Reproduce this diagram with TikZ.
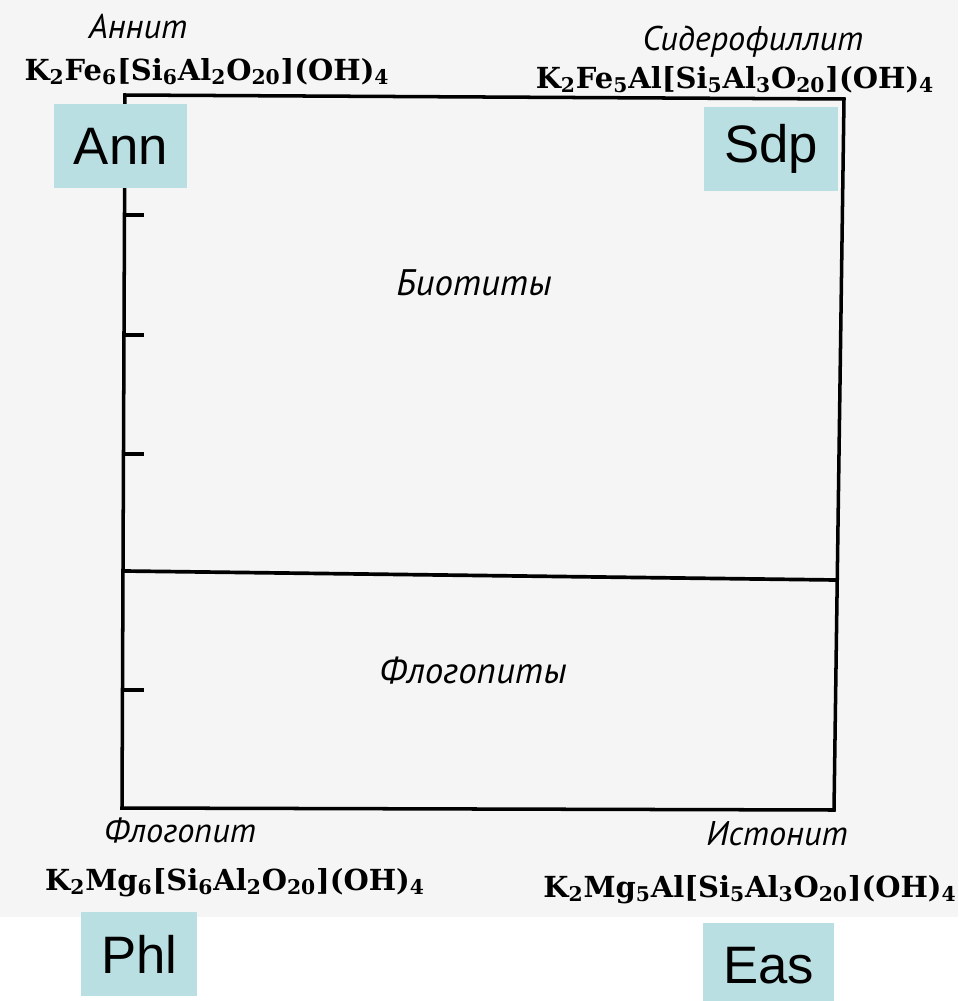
\documentclass[tikz,border=0pt]{standalone}
\usepackage{fontspec}
\setmainfont{DejaVu Serif}
\newfontfamily\rulabel{PT Sans}
\newfontfamily\abbrfont{Liberation Sans}
\definecolor{tealbox}{HTML}{B9DFE2}
\definecolor{scan}{HTML}{F5F5F5}
\newcommand\ix[1]{\textsubscript{#1}}
\begin{document}
\begin{tikzpicture}[x=0.02cm,y=-0.02cm,
  mineral/.style={anchor=base,font=\rulabel\itshape\fontsize{19.5}{22}\selectfont},
  field/.style={anchor=base,font=\rulabel\itshape\fontsize{21}{24}\selectfont},
  formula/.style={anchor=base,font=\bfseries\fontsize{16.5}{19}\selectfont},
  abbr/.style={anchor=north west,fill=tealbox,inner sep=0pt,minimum height=84*0.02cm,
    font=\abbrfont\fontsize{30}{32}\selectfont}]
\useasboundingbox (0,0) rectangle (958,1001);
\fill[scan] (0,0) rectangle (958,917);

% corners of the field
\coordinate (tl) at (125,95);
\coordinate (tr) at (844,99);
\coordinate (br) at (834,810);
\coordinate (bl) at (122,808);
\coordinate (ml) at (124,571);
\coordinate (mr) at (837,580);
\draw[line width=2pt] (tl) -- (tr) -- (br) -- (bl) -- cycle;
\draw[line width=2.1pt] (ml) -- (mr);
\foreach \ty in {215,335,454,690}
  \draw[line width=1.8pt] (124,\ty) -- ++(20,0);

% end members
\node[mineral] (annit) at (138,38) {Аннит};
\node[formula] (fann) at (207,80) {K\ix{2}Fe\ix{6}[Si\ix{6}Al\ix{2}O\ix{20}](OH)\ix{4}};
\node[mineral] (sidero) at (753,50) {Сидерофиллит};
\node[formula] (fsdp) at (735,88) {K\ix{2}Fe\ix{5}Al[Si\ix{5}Al\ix{3}O\ix{20}](OH)\ix{4}};
\node[mineral] (phlog) at (180,842) {Флогопит};
\node[formula] (fphl) at (235,890) {K\ix{2}Mg\ix{6}[Si\ix{6}Al\ix{2}O\ix{20}](OH)\ix{4}};
\node[mineral] (eastonite) at (777,845) {Истонит};
\node[formula] (feas) at (750,897) {K\ix{2}Mg\ix{5}Al[Si\ix{5}Al\ix{3}O\ix{20}](OH)\ix{4}};

% fields
\node[field] (biotite) at (474,295) {Биотиты};
\node[field] (phlogs) at (473,683) {Флогопиты};

% abbreviations
\node[abbr,minimum width=133*0.02cm] (ann) at (54,104) {Ann};
\node[abbr,minimum width=134*0.02cm] (sdp) at (704,107) {Sdp};
\node[abbr,minimum width=116*0.02cm] (phl) at (81,912) {Phl};
\node[abbr,minimum width=131*0.02cm] (eas) at (703,923) {Eas};
\end{tikzpicture}
\end{document}
